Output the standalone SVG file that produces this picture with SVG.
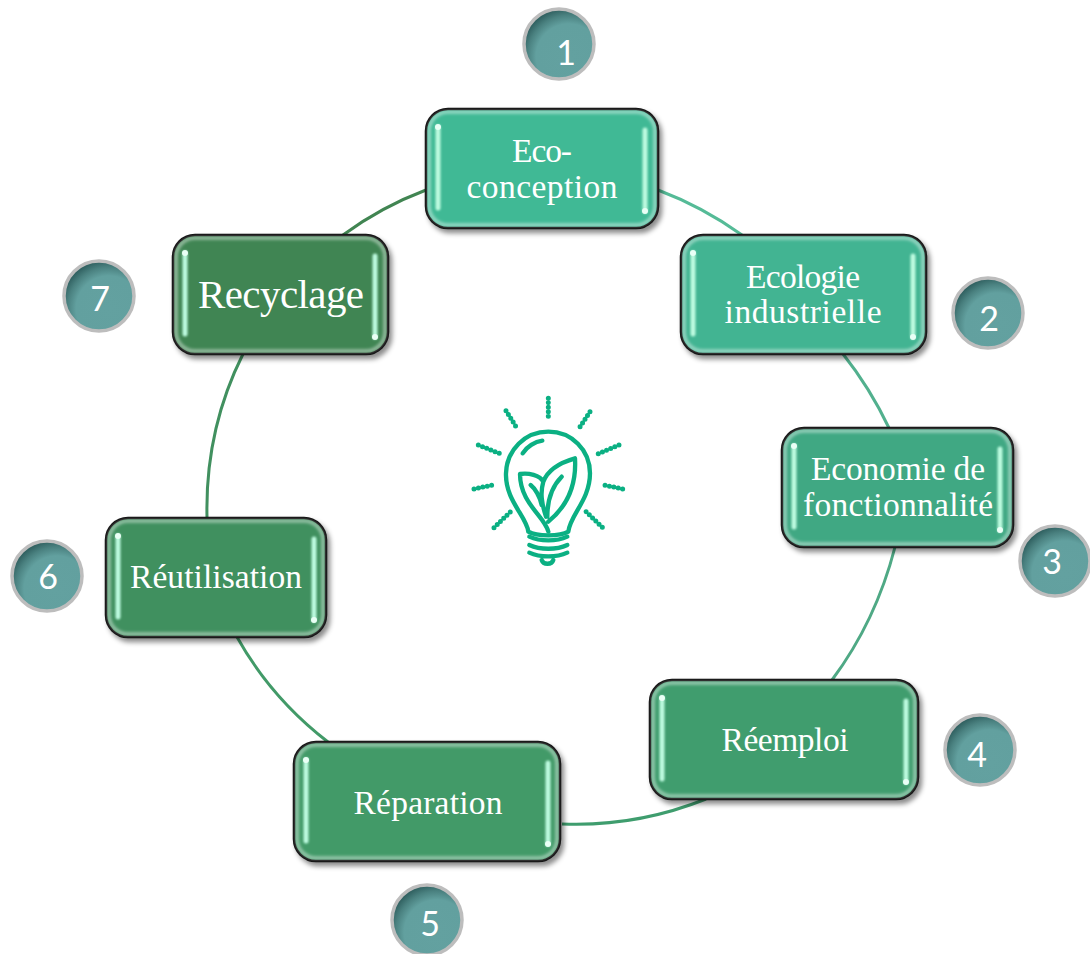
<svg xmlns="http://www.w3.org/2000/svg" width="1090" height="954" viewBox="0 0 1090 954">
<style>
.box{stroke:#0c0c0c;stroke-width:2.5;filter:url(#ds)}
.rim{fill:none;stroke:#fff;stroke-opacity:.45;stroke-width:3.5;filter:url(#b1)}
.bar{stroke:#bdfbe0;stroke-width:5;stroke-linecap:round;filter:url(#b0)}
.dot{fill:#eafff6}
.lab{font-family:"Liberation Serif","DejaVu Serif",serif;font-size:33.5px;fill:#fff;text-anchor:middle}
.bad{fill:url(#bg);stroke:#bdbdbd;stroke-width:3.5}
.num{font-family:Lato,"Open Sans",sans-serif;font-size:34px;fill:#fff;text-anchor:middle}
.con{fill:none;stroke-width:3}
.bulb{fill:none;stroke:#0bb083;stroke-width:13;stroke-linecap:round;stroke-linejoin:round}
.ray{fill:none;stroke:#0bb083;stroke-width:15;stroke-linecap:round;stroke-dasharray:0 13.5}
</style>
<defs>
<filter id="ds" x="-10%" y="-10%" width="125%" height="130%"><feDropShadow dx="3" dy="4" stdDeviation="2.5" flood-color="#000" flood-opacity=".45"/></filter>
<filter id="b1" x="-5%" y="-5%" width="110%" height="110%"><feGaussianBlur stdDeviation="1.4"/></filter>
<filter id="b0" x="-300%" y="-5%" width="700%" height="110%"><feGaussianBlur stdDeviation=".8"/></filter>
<radialGradient id="bg" cx=".64" cy=".68" r=".78">
<stop offset="0" stop-color="#63a1a0"/><stop offset=".6" stop-color="#62a09f"/><stop offset=".76" stop-color="#4a8180"/><stop offset=".92" stop-color="#2b5a5a"/>
</radialGradient>
</defs>
<g id="connectors">
<path class="con" stroke="#55bb97" d="M658 190Q703 207 742 235"/>
<path class="con" stroke="#52b08e" d="M843 354Q870 388 889 428"/>
<path class="con" stroke="#4fa985" d="M895 547Q876 621 832 680"/>
<path class="con" stroke="#3f9d6e" d="M706 799Q636 827 562 824"/>
<path class="con" stroke="#429a68" d="M328 742Q271 698 237 637"/>
<path class="con" stroke="#41905f" d="M207 517Q205 430 243 354"/>
<path class="con" stroke="#418552" d="M343 235Q381 207 426 190"/>
</g>
<g id="bulb" transform="translate(460 390) scale(.3333)">
<path class="bulb" d="M205 425C200 380 135 330 138 250C140 180 195 125 265 125C335 125 390 180 390 250C390 330 330 375 325 425C300 440 230 440 205 425Z"/>
<path class="bulb" d="M188 190C200 170 225 155 247 152"/>
<path class="bulb" d="M265 425C255 380 180 340 180 252C205 248 240 255 250 275C265 235 310 215 345 205C350 290 320 350 265 395M250 275C240 310 245 340 258 380M212 285C225 295 240 320 245 345M305 260C280 285 262 320 262 380"/>
<path class="bulb" d="M208 440C240 455 290 455 322 440M208 465C240 480 290 480 322 465M208 488C240 503 290 503 322 488M245 510C250 525 275 525 280 510"/>
<path class="ray" d="M265 25V92M138 62L173 118M390 65L355 118M55 165L118 190M477 165L413 192M42 297L108 283M488 297L423 283M102 413L152 365M427 412L378 365"/>
</g>
<g id="node1"><rect class="box" x="426" y="109" width="232" height="119" rx="22" fill="#41b995"/><rect class="rim" x="429" y="112" width="226" height="113" rx="19"/><path class="bar" d="M438 127V208M645 130V211"/><circle class="dot" cx="438" cy="127" r="3"/><circle class="dot" cx="645" cy="211" r="3"/><text class="lab" x="542" y="162" textLength="60">Eco-</text><text class="lab" x="542" y="198" textLength="151">conception</text></g>
<g id="node2"><rect class="box" x="681" y="235" width="245" height="119" rx="22" fill="#42b492"/><rect class="rim" x="684" y="238" width="239" height="113" rx="19"/><path class="bar" d="M693 253V334M913 256V337"/><circle class="dot" cx="693" cy="253" r="3"/><circle class="dot" cx="913" cy="337" r="3"/><text class="lab" x="803" y="288" textLength="114">Ecologie</text><text class="lab" x="803" y="323" textLength="157">industrielle</text></g>
<g id="node3"><rect class="box" x="782" y="428" width="231" height="119" rx="22" fill="#41a883"/><rect class="rim" x="785" y="431" width="225" height="113" rx="19"/><path class="bar" d="M794 446V527M1000 449V530"/><circle class="dot" cx="794" cy="446" r="3"/><circle class="dot" cx="1000" cy="530" r="3"/><text class="lab" x="898" y="480" textLength="174">Economie de</text><text class="lab" x="898" y="516" textLength="190">fonctionnalité</text></g>
<g id="node4"><rect class="box" x="650" y="680" width="268" height="119" rx="22" fill="#3f9d6e"/><rect class="rim" x="653" y="683" width="262" height="113" rx="19"/><path class="bar" d="M662 698V779M906 701V782"/><circle class="dot" cx="662" cy="698" r="3"/><circle class="dot" cx="906" cy="782" r="3"/><text class="lab" x="785" y="751" textLength="127">Réemploi</text></g>
<g id="node5"><rect class="box" x="294" y="742" width="266" height="119" rx="22" fill="#429a68"/><rect class="rim" x="297" y="745" width="260" height="113" rx="19"/><path class="bar" d="M306 760V841M548 763V844"/><circle class="dot" cx="306" cy="760" r="3"/><circle class="dot" cx="548" cy="844" r="3"/><text class="lab" x="428" y="814" textLength="149">Réparation</text></g>
<g id="node6"><rect class="box" x="106" y="518" width="220" height="119" rx="22" fill="#41905f"/><rect class="rim" x="109" y="521" width="214" height="113" rx="19"/><path class="bar" d="M118 536V617M314 539V620"/><circle class="dot" cx="118" cy="536" r="3"/><circle class="dot" cx="314" cy="620" r="3"/><text class="lab" x="216" y="588" textLength="172">Réutilisation</text></g>
<g id="node7"><rect class="box" x="173" y="235" width="215" height="119" rx="22" fill="#418552"/><rect class="rim" x="176" y="238" width="209" height="113" rx="19"/><path class="bar" d="M185 253V334M375 256V337"/><circle class="dot" cx="185" cy="253" r="3"/><circle class="dot" cx="375" cy="337" r="3"/><text class="lab" x="281" y="308" style="font-size:41px" textLength="166">Recyclage</text></g>
<g id="badge1"><circle class="bad" cx="559" cy="44" r="35"/><text class="num" x="566" y="65">1</text></g>
<g id="badge2"><circle class="bad" cx="988" cy="313" r="35"/><text class="num" x="989" y="331">2</text></g>
<g id="badge3"><circle class="bad" cx="1055" cy="561" r="35"/><text class="num" x="1052" y="574">3</text></g>
<g id="badge4"><circle class="bad" cx="980" cy="750" r="35"/><text class="num" x="977" y="767">4</text></g>
<g id="badge5"><circle class="bad" cx="427" cy="920" r="35"/><text class="num" x="430" y="936">5</text></g>
<g id="badge6"><circle class="bad" cx="47" cy="576" r="35"/><text class="num" x="48" y="589">6</text></g>
<g id="badge7"><circle class="bad" cx="99" cy="296" r="35"/><text class="num" x="100" y="311">7</text></g>
</svg>
